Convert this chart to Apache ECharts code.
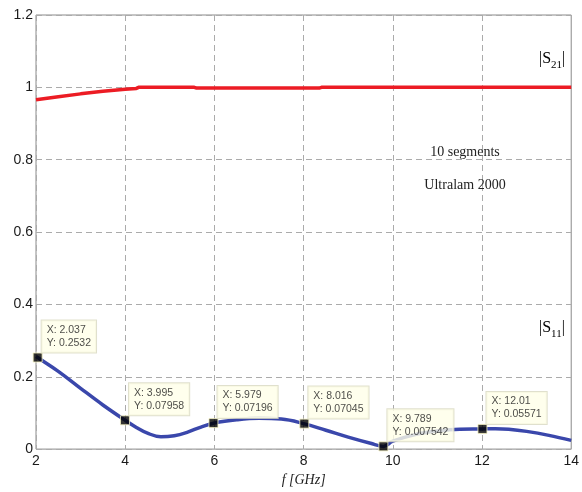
<!DOCTYPE html>
<html>
<head>
<meta charset="utf-8">
<script src="https://cdn.jsdelivr.net/npm/echarts@6/dist/echarts.min.js"></script>
<style>html,body{margin:0;padding:0;background:#fff}#c{width:582px;height:492px}</style>
</head>
<body>
<div id="c"></div>
<script>
// S21 magnitude (red)
const s21X = [2.0, 2.5, 3.0, 3.5, 4.0, 4.25, 4.3, 5.55, 5.6, 8.35, 8.4, 10, 12, 14];
const s21Y = [0.966, 0.974, 0.982, 0.989, 0.995, 0.997, 1.0, 1.0, 0.998, 0.998, 1.0, 1.0, 1.0, 1.0];
// S11 magnitude (blue)
const s11X = [2.0, 2.037, 2.5, 3.0, 3.5, 4.0, 4.25, 4.5, 4.8, 5.1, 5.4, 5.7, 6.0, 6.5, 7.0, 7.5, 8.0, 8.5, 9.0, 9.5, 9.789, 10.0, 10.5, 11.0, 11.5, 12.0, 12.3, 12.6, 13.0, 13.5, 14.0];
const s11Y = [0.256, 0.2532, 0.215, 0.168, 0.122, 0.0796, 0.060, 0.044, 0.034, 0.037, 0.047, 0.061, 0.072, 0.081, 0.085, 0.083, 0.0705, 0.052, 0.033, 0.016, 0.0075, 0.022, 0.040, 0.050, 0.055, 0.0557, 0.0565, 0.055, 0.049, 0.038, 0.024];
// data tips
const tipX = [2.037, 3.995, 5.979, 8.016, 9.789, 12.01];
const tipY = [0.2532, 0.07958, 0.07196, 0.07045, 0.007542, 0.05571];
// axis ticks
const xTicks = [2, 4, 6, 8, 10, 12, 14];
const yTicks = [0, 0.2, 0.4, 0.6, 0.8, 1, 1.2];

const zip = (a, b) => a.map((v, i) => [v, b[i]]);
const chart = echarts.init(document.getElementById('c'), null, {renderer: 'canvas'});
const serif = '"Liberation Serif","DejaVu Serif",serif';
const sans = '"Liberation Sans",Arial,sans-serif';
const gridLine = {show: true, lineStyle: {color: '#ababab', type: [6, 4], width: 1}};
const richSub = {
  a: {fontFamily: serif, fontSize: 16, color: '#222', verticalAlign: 'bottom', lineHeight: 20},
  b: {fontFamily: serif, fontSize: 11, color: '#222', verticalAlign: 'bottom', lineHeight: 14, padding: [0, 0, -4, 0]}
};
chart.setOption({
  animation: false,
  grid: {left: 36, right: 7, top: 15, bottom: 41, show: true, borderColor: '#8a8a8a', borderWidth: 1, backgroundColor: 'transparent'},
  xAxis: {
    type: 'value', min: xTicks[0], max: xTicks[xTicks.length - 1], interval: 2,
    axisLine: {show: false}, axisTick: {show: false},
    splitLine: gridLine,
    axisLabel: {color: '#1a1a1a', fontFamily: sans, fontSize: 14, margin: 5},
    name: 'f [GHz]', nameLocation: 'middle', nameGap: 21,
    nameTextStyle: {fontFamily: serif, fontStyle: 'italic', fontSize: 14, color: '#222'}
  },
  yAxis: {
    type: 'value', min: yTicks[0], max: yTicks[yTicks.length - 1], interval: 0.2,
    axisLine: {show: false}, axisTick: {show: false},
    splitLine: gridLine,
    axisLabel: {color: '#1a1a1a', fontFamily: sans, fontSize: 14, margin: 3,
      formatter: v => String(Math.round(v * 10) / 10)}
  },
  series: [
    {type: 'line', data: zip(s21X, s21Y), symbol: 'none', lineStyle: {color: '#ec1c24', width: 3.5}, z: 3},
    {type: 'line', data: zip(s11X, s11Y), symbol: 'none', smooth: 0.4, lineStyle: {color: '#3a47ab', width: 3.5}, z: 3},
    {type: 'scatter', data: zip(tipX, tipY), symbol: 'rect', symbolSize: 9,
      itemStyle: {color: '#000', borderColor: '#f4f0c0', borderWidth: 1}, z: 5,
      label: {show: true, position: [9, -32], align: 'left', verticalAlign: 'top',
        formatter: p => 'X: ' + p.value[0] + '\nY: ' + p.value[1],
        fontFamily: sans, fontSize: 10.5, lineHeight: 13, color: '#1a1a1a',
        backgroundColor: '#ffffe8', borderColor: '#d8d8c0', borderWidth: 1, padding: [3, 5, 3, 5]}
    }
  ],
  graphic: [
    {type: 'text', left: 539, top: 51, z: 10, style: {text: '{a||S}{b|21}{a||}', rich: richSub}},
    {type: 'text', left: 539, top: 320, z: 10, style: {text: '{a||S}{b|11}{a||}', rich: richSub}},
    {type: 'text', x: 465, y: 152, z: 10, style: {text: '10 segments', fontFamily: serif, fontSize: 14, fill: '#222', align: 'center', verticalAlign: 'middle'}},
    {type: 'text', x: 465, y: 185, z: 10, style: {text: 'Ultralam 2000', fontFamily: serif, fontSize: 14, fill: '#222', align: 'center', verticalAlign: 'middle'}}
  ]
});
</script>
</body>
</html>
